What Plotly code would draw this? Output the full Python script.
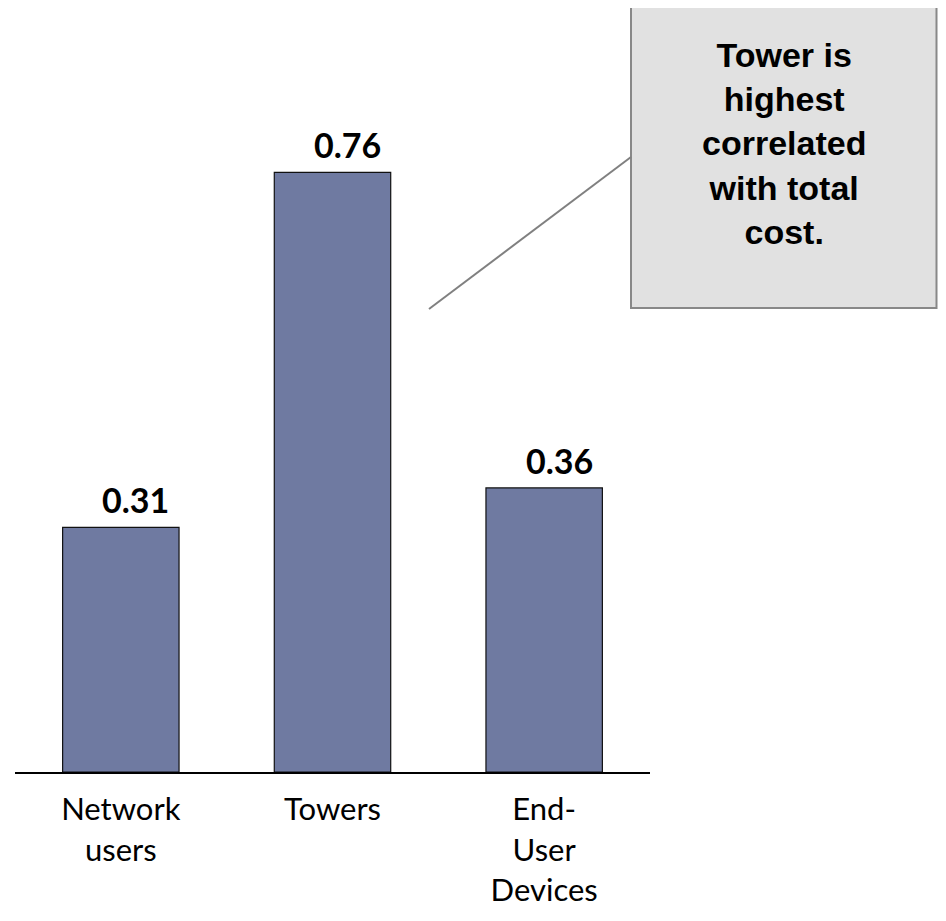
import plotly.graph_objects as go

categories = ["Network<br>users", "Towers", "End-<br>User<br>Devices"]
values = [0.31, 0.76, 0.36]
value_labels = ["0.31", "0.76", "0.36"]
callout_lines = ["Tower is", "highest", "correlated", "with total", "cost."]

# page has an 8px body margin: figure px = page px - 8
OFF = 8
W, H = 946 - 2 * OFF, 921 - 2 * OFF
L, R_EDGE, BOTTOM = 15 - OFF, 650 - OFF, 772 - OFF
YMAX = BOTTOM / 789.0

def px_x(px):
    return (px - OFF - L) / (R_EDGE - L)

def px_y(py):
    return (BOTTOM - (py - OFF)) / BOTTOM

fig = go.Figure()
fig.add_trace(go.Bar(
    x=categories, y=values, width=0.55,
    marker=dict(color="#6F7AA1", line=dict(color="#111111", width=1.2)),
    hoverinfo="skip",
))

for c, v, t in zip(categories, values, value_labels):
    fig.add_annotation(x=c, y=v, text=t, showarrow=False, xref="x", yref="y",
                       yanchor="bottom", xanchor="center", xshift=15, yshift=5,
                       font=dict(family="Lato", size=34, color="#000000", weight="bold"))

# callout box
fig.add_shape(type="rect", xref="paper", yref="paper",
              x0=px_x(631), x1=px_x(936.5), y0=px_y(308), y1=px_y(6),
              fillcolor="#E1E1E1", line=dict(color="#888888", width=2), layer="above")
fig.add_shape(type="line", xref="paper", yref="paper",
              x0=px_x(429), y0=px_y(309), x1=px_x(631), y1=px_y(157),
              line=dict(color="#808080", width=2))
fig.add_annotation(xref="paper", yref="paper", x=px_x(784), y=px_y(143),
                   text="<br>".join(callout_lines), showarrow=False,
                   xanchor="center", yanchor="middle", align="center",
                   font=dict(family="Liberation Sans", size=34, color="#000000", weight="bold"))

fig.update_layout(
    width=W, height=H,
    margin=dict(l=L, r=W - R_EDGE, t=0, b=H - BOTTOM),
    plot_bgcolor="white", paper_bgcolor="white",
    showlegend=False,
)
fig.update_xaxes(range=[-0.5, 2.5], showline=True, linecolor="#000000", linewidth=2,
                 showgrid=False, zeroline=False, ticks="", ticklabelstandoff=9,
                 automargin=False,
                 tickfont=dict(family="Lato", size=31, color="#000000"))
fig.update_yaxes(range=[0, YMAX], visible=False, showgrid=False, zeroline=False,
                 automargin=False)

fig.write_html("out.html")
